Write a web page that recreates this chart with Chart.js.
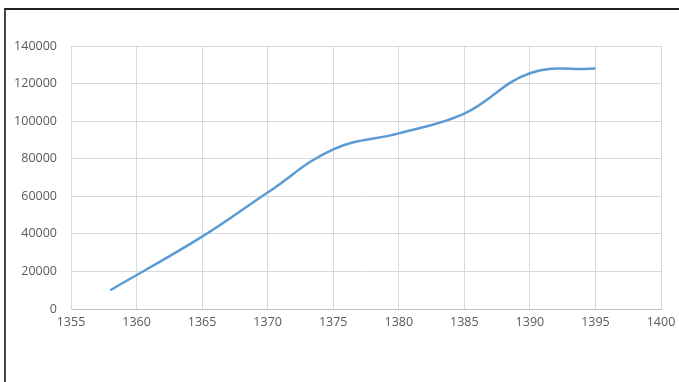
<!DOCTYPE html>
<html>
<head>
<meta charset="utf-8">
<script src="https://cdn.jsdelivr.net/npm/chart.js@4"></script>
<style>
  html, body { margin: 0; padding: 0; background: #fff; }
  #wrap { position: relative; width: 679px; height: 382px; }
  #frame { position: absolute; left: 4px; top: 8px; right: 0; bottom: 0; border-top: 2px solid #222; border-left: 2px solid #444; }
  #chart { position: absolute; left: 0; top: 0; }
</style>
</head>
<body>
<div id="wrap">
  <div id="frame"></div>
  <canvas id="chart" width="679" height="382"></canvas>
</div>
<script>
// years and values
const years = [1358, 1365, 1370, 1375, 1380, 1385, 1390, 1395];
const values = [10000, 38500, 62000, 85000, 93500, 104000, 125500, 128000];

const points = years.map((y, i) => ({ x: y, y: values[i] }));
const tickFont = { family: 'Open Sans', size: 12.5 };

const ctx = document.getElementById('chart');
new Chart(ctx, {
  type: 'line',
  data: {
    datasets: [{
      data: points,
      borderColor: '#5B9BD5',
      borderWidth: 2.5,
      pointRadius: 0,
      tension: 0.4,
      fill: false
    }]
  },
  options: {
    responsive: false,
    animation: false,
    layout: { padding: { left: 0, top: 46, right: 10, bottom: 43 } },
    plugins: { legend: { display: false }, tooltip: { enabled: false } },
    scales: {
      x: {
        type: 'linear',
        min: 1355,
        max: 1400,
        ticks: { stepSize: 5, color: '#595959', font: tickFont, padding: 6, callback: v => String(v) },
        grid: { color: '#d9d9d9', drawTicks: false },
        border: { color: '#bfbfbf', width: 1 },
        afterFit: s => { s.height = 30; s.paddingRight = 18; }
      },
      y: {
        min: 0,
        max: 140000,
        ticks: { stepSize: 20000, color: '#595959', font: tickFont, padding: 14, callback: v => String(v) },
        grid: { color: '#d9d9d9', drawTicks: false },
        border: { color: '#d9d9d9' },
        afterFit: s => { s.width = 71; }
      }
    }
  }
});
</script>
</body>
</html>
